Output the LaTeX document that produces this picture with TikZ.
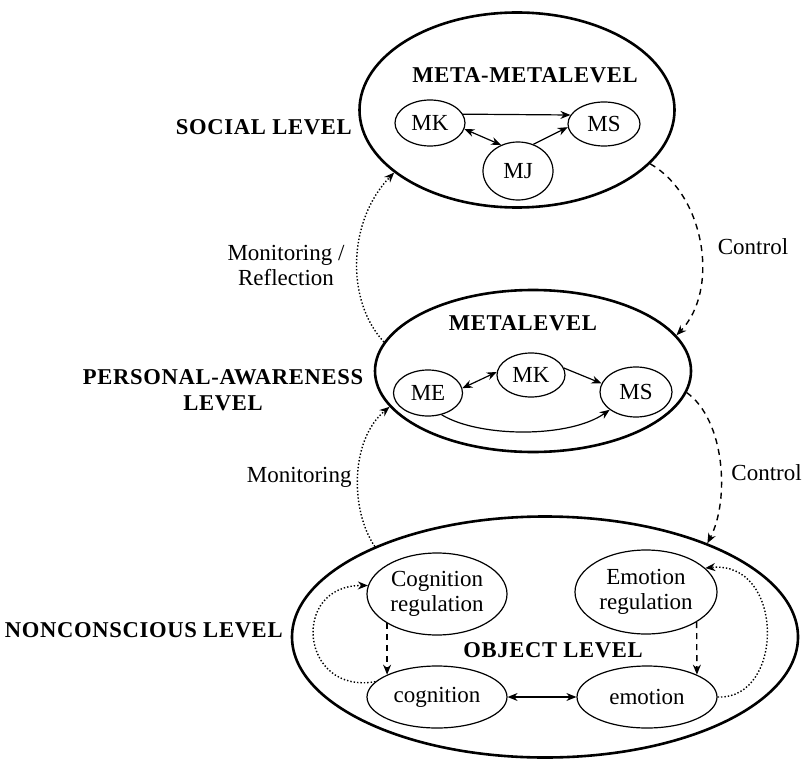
\documentclass[tikz,border=0pt]{standalone}
\usepackage{fontspec}
\setmainfont{Liberation Serif}
\newfontfamily\lvlfont{Liberation Serif}[LetterSpace=3]
\usetikzlibrary{arrows.meta, shapes.geometric}

\tikzset{
    bigell/.style={draw, ellipse, line width=1.3pt, inner sep=0pt},
    smallell/.style={draw, ellipse, line width=0.6pt, inner sep=0pt, align=center},
    lvltitle/.style={font=\lvlfont\fontsize{11.3}{13}\selectfont\bfseries, align=center, inner sep=0pt},
    lbl/.style={inner sep=0pt, align=center},
    monitor/.style={densely dotted, line width=0.7pt, -{Stealth[length=5pt, width=4pt]}},
    control/.style={dash pattern=on 3pt off 2.5pt, line width=0.7pt, -{Stealth[length=5pt, width=4pt]}},
    link/.style={line width=0.6pt, -{Stealth[length=5pt, width=4pt]}}
}

\begin{document}
\begin{tikzpicture}[x=0.5pt, y=-0.5pt, font=\fontsize{11.5}{12.5}\selectfont]
    \useasboundingbox (0,0) rectangle (802,759);

    % social level
    \node[bigell, minimum width=157.5pt, minimum height=97.5pt] (top) at (517,110) {};
    \node[lvltitle] (toptitle) at (525,75) {META-METALEVEL};
    \node[smallell, minimum width=35pt, minimum height=23pt] (tMK) at (430,123) {MK};
    \node[smallell, minimum width=36pt, minimum height=22pt] (tMS) at (604,124) {MS};
    \node[smallell, minimum width=35pt, minimum height=29pt] (tMJ) at (518,171) {MJ};
    \draw[link] (tMK.15) -- (tMS.165);
    \draw[link, {Stealth[length=5pt, width=4pt]}-{Stealth[length=5pt, width=4pt]}] (tMK.-10) -- (tMJ.123);
    \draw[link] (tMJ.60) -- (tMS.185);

    % personal-awareness level
    \node[bigell, minimum width=158pt, minimum height=81pt] (mid) at (533,371) {};
    \node[lvltitle] (midtitle) at (523,323) {METALEVEL};
    \node[smallell, minimum width=34.5pt, minimum height=23pt] (mME) at (428,393) {ME};
    \node[smallell, minimum width=34pt, minimum height=22pt] (mMK) at (531,375) {MK};
    \node[smallell, minimum width=36pt, minimum height=25pt] (mMS) at (636,392) {MS};
    \draw[link, {Stealth[length=5pt, width=4pt]}-{Stealth[length=5pt, width=4pt]}] (mME.8) -- (mMK.175);
    \draw[link] (mMK.12) -- (mMS.166);
    \draw[link] (mME.-58) .. controls (480,438) and (570,438) .. (mMS.214);

    % nonconscious level
    \node[bigell, minimum width=253pt, minimum height=120.5pt] (bot) at (545,637) {};
    \node[lvltitle] (bottitle) at (553,650) {OBJECT LEVEL};
    \node[smallell, minimum width=70pt, minimum height=41pt] (bCR) at (437,594) {Cognition\\regulation};
    \node[smallell, minimum width=71pt, minimum height=42pt] (bER) at (646,592) {Emotion\\regulation};
    \node[smallell, minimum width=70pt, minimum height=31pt] (bC) at (437,697) {cognition};
    \node[smallell, minimum width=70pt, minimum height=31pt] (bE) at (647,697) {emotion};
    \draw[control] (bCR.south west) -- (bC.north west);
    \draw[control] (bER.south east) -- (bE.north east);
    \draw[link, {Stealth[length=5pt, width=4pt]}-{Stealth[length=5pt, width=4pt]}] (bC) -- (bE);
    \draw[monitor] (bC.166) .. controls (300,695) and (290,585) .. (bCR.173);
    \draw[monitor] (bE.0) .. controls (785,700) and (785,560) .. (bER.22);

    % between the levels
    \draw[monitor] (mid.169) .. controls (345,300) and (348,220) .. (top.207);
    \draw[monitor] (bot.152) .. controls (350,510) and (350,440) .. (mid.194);
    \draw[control] (top.-22) .. controls (705,195) and (720,290) .. (mid.14);
    \draw[control] (mid.-8) .. controls (725,420) and (730,500) .. (bot.30);

    % labels
    \node[lvltitle, anchor=east] (social) at (352,127) {SOCIAL LEVEL};
    \node[lvltitle] (personal) at (223,390) {PERSONAL-AWARENESS\\LEVEL};
    \node[lvltitle, anchor=east] (noncon) at (283,630) {NONCONSCIOUS LEVEL};
    \node[lbl] (monrefl) at (286,265) {Monitoring /\\Reflection};
    \node[lbl, anchor=east] (mon) at (352,477) {Monitoring};
    \node[lbl] (ctltop) at (753,247) {Control};
    \node[lbl, anchor=west] (ctlbot) at (731,473) {Control};
\end{tikzpicture}
\end{document}
